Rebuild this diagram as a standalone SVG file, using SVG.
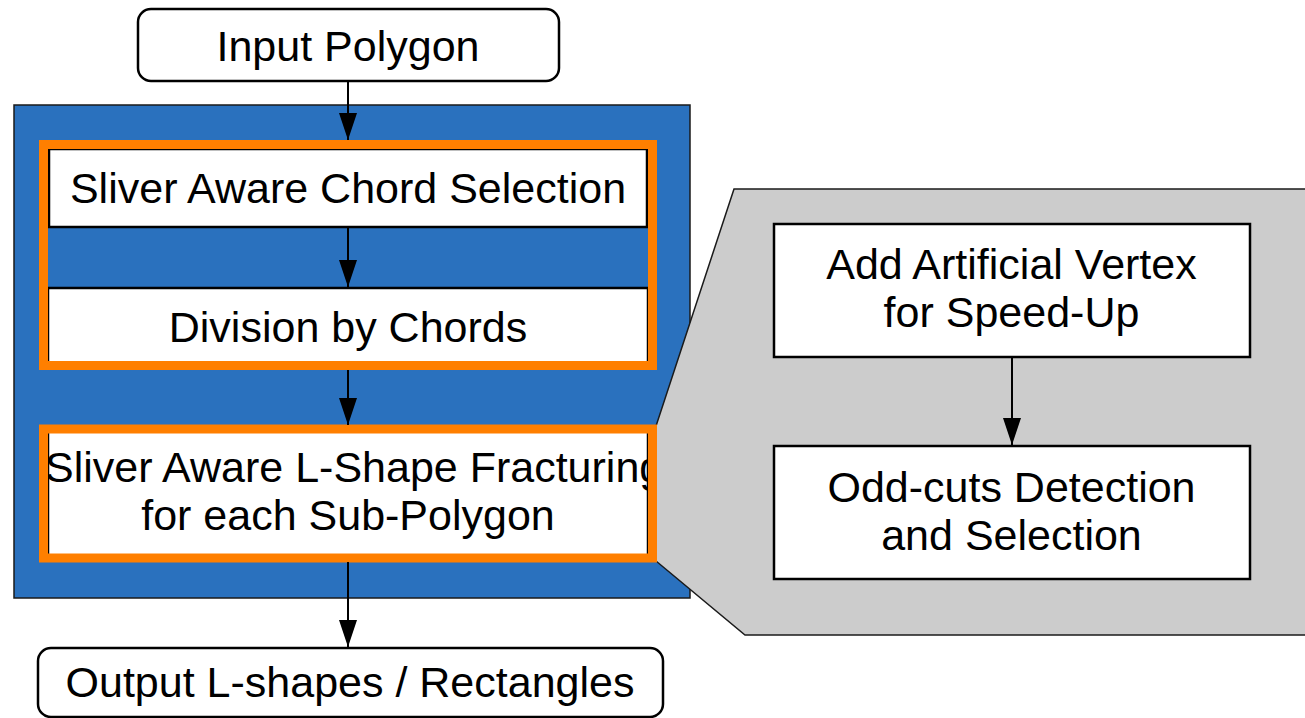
<svg xmlns="http://www.w3.org/2000/svg" width="1305" height="718" viewBox="0 0 1305 718">
<style>
text{font-family:"Liberation Sans",Arial,Helvetica,sans-serif;font-size:43px;fill:#000;text-anchor:middle}
.box{fill:#fff;stroke:#000;stroke-width:2.5}
.term{fill:#fff;stroke:#000;stroke-width:2.5}
.frame{fill:none;stroke:#ff7f00;stroke-width:9}
.conn{stroke:#000;stroke-width:2;fill:none;marker-end:url(#ah)}
</style>
<defs>
<marker id="ah" markerUnits="userSpaceOnUse" markerWidth="27" markerHeight="18" refX="27" refY="9" orient="auto">
<path d="M0,0 L27,9 L0,18 z" fill="#000"/>
</marker>
<clipPath id="lclip"><rect x="48" y="430" width="600" height="128"/></clipPath>
</defs>
<rect id="stage-bg" x="14" y="105" width="676" height="493" fill="#2a71be" stroke="#1a1a1a" stroke-width="1.5"/>
<polygon id="zoom-panel" points="734,189 1310,189 1310,635 745,635 656,561 656,426" fill="#cccccc" stroke="#1a1a1a" stroke-width="1.5"/>
<g id="input">
<rect class="term" x="138" y="9" width="421" height="72" rx="13"/>
<text x="348" y="61">Input Polygon</text>
</g>
<g id="chord-selection">
<rect class="box" x="49" y="149" width="598" height="78"/>
<text x="348" y="203">Sliver Aware Chord Selection</text>
</g>
<g id="division">
<rect class="box" x="48" y="288" width="600" height="76"/>
<text x="348" y="342">Division by Chords</text>
</g>
<g id="lshape">
<rect class="box" x="48" y="430" width="600" height="128"/>
<text x="45" y="482" style="text-anchor:start" clip-path="url(#lclip)">Sliver Aware L-Shape Fracturing</text>
<text x="348" y="530">for each Sub-Polygon</text>
</g>
<rect id="frame1" class="frame" x="43.5" y="144.5" width="609" height="221"/>
<rect id="frame2" class="frame" x="43.5" y="429" width="609" height="129"/>
<g id="artificial-vertex">
<rect class="box" x="774" y="224" width="476" height="133"/>
<text x="1011.5" y="279">Add Artificial Vertex</text>
<text x="1011.5" y="327">for Speed-Up</text>
</g>
<g id="odd-cuts">
<rect class="box" x="774" y="446" width="476" height="133"/>
<text x="1011.5" y="502">Odd-cuts Detection</text>
<text x="1011.5" y="550">and Selection</text>
</g>
<g id="output">
<rect class="term" x="38" y="648" width="625" height="69" rx="13"/>
<text x="350" y="697">Output L-shapes / Rectangles</text>
</g>
<g id="connectors">
<line class="conn" x1="348" y1="82" x2="348" y2="140"/>
<line class="conn" x1="348" y1="228" x2="348" y2="287"/>
<line class="conn" x1="348" y1="370" x2="348" y2="425"/>
<line class="conn" x1="348" y1="562" x2="348" y2="647"/>
<line class="conn" x1="1012" y1="357" x2="1012" y2="445"/>
</g>
</svg>
